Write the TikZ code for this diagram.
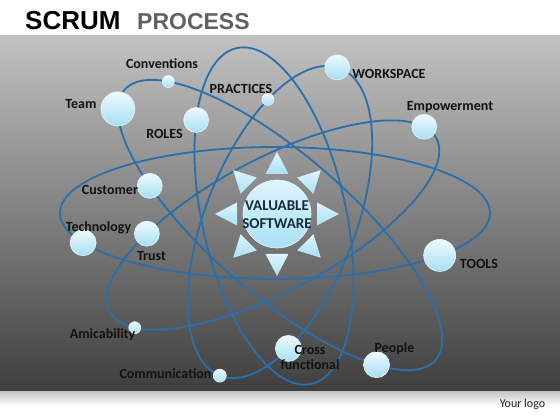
\documentclass[tikz,border=0pt]{standalone}
\usepackage{fontspec}
\setmainfont{Carlito}
\newfontfamily\titlefont{Liberation Sans}
\usetikzlibrary{calc}
\definecolor{orbit}{HTML}{2B6FAA}
\definecolor{ballA}{HTML}{EEFAFE}
\definecolor{ballB}{HTML}{A6DFF3}
\definecolor{sunA}{HTML}{DDF5FD}
\definecolor{sunB}{HTML}{A9E1F4}
\definecolor{labelc}{HTML}{121212}
\definecolor{corec}{HTML}{17293A}
\definecolor{panelTop}{HTML}{C2C2C2}
\definecolor{panelBot}{HTML}{3E3E3E}
\tikzset{
  orbitline/.style={draw=orbit, line width=1.8pt},
  ball/.style={circle, inner sep=0pt, minimum size=#1, top color=ballA, bottom color=ballB, draw=white!70!ballB, line width=0.6pt},
  labbase/.style={font=\bfseries\fontsize{14}{15}\selectfont, text=labelc, inner sep=0pt},
  lab/.style={labbase, text height=9.5pt, text depth=3pt},
  ray/.style={top color=sunA, bottom color=sunB, draw=none},
}
\begin{document}
\begin{tikzpicture}[x=1pt,y=1pt]
\useasboundingbox (0,0) rectangle (560,420);
\fill[white] (0,0) rectangle (560,420);
% panel and footer
\shade[top color=panelTop, bottom color=panelBot] (0,28) rectangle (560,384);
\shade[top color=black!22, bottom color=white] (0,14) rectangle (560,28);
% title
\node[anchor=base west, inner sep=0pt] (t1) at (25,390) {\titlefont\bfseries\fontsize{26}{26}\selectfont SCRUM};
\node[anchor=base west, inner sep=0pt, text=black!62] (t2) at (137,390) {\titlefont\bfseries\fontsize{23}{23}\selectfont PROCESS};
% ellipse centres
\coordinate (cE) at (275,207);
\coordinate (cA) at (280,195);
\coordinate (cC) at (273,195);
\coordinate (cD) at (280,198);
\coordinate (cF) at (274,204);
\coordinate (cS) at (277,206);
% orbits
\draw[orbitline] (cE) ellipse [x radius=215pt, y radius=66pt];
\draw[orbitline, rotate around={-41:(cA)}] (cA) ellipse [x radius=206pt, y radius=70pt];
\draw[orbitline, rotate around={28:(cC)}] (cC) ellipse [x radius=185pt, y radius=66pt];
\draw[orbitline, rotate around={68.6:(cD)}] (cD) ellipse [x radius=165pt, y radius=75pt];
\draw[orbitline, rotate around={102.5:(cF)}] (cF) ellipse [x radius=172pt, y radius=72pt];
% node positions on orbits
\coordinate (pTech) at ($(cE)+(0:{215*cos(206.8)})+(90:{66*sin(206.8)})$);
\coordinate (pTools) at ($(cE)+(0:{215*cos(320)})+(90:{66*sin(320)})$);
\coordinate (pConv) at ($(cA)+(-41:{206*cos(150)})+(49:{70*sin(150)})$);
\coordinate (pTeam) at ($(cA)+(-41:{206*cos(195.5)})+(49:{70*sin(195.5)})$);
\coordinate (pCust) at ($(cA)+(-41:{206*cos(233)})+(49:{70*sin(233)})$);
\coordinate (pPeople) at ($(cA)+(-41:{206*cos(323)})+(49:{70*sin(323)})$);
\coordinate (pEmp) at ($(cC)+(28:{185*cos(13.8)})+(118:{66*sin(13.8)})$);
\coordinate (pTrust) at ($(cC)+(28:{185*cos(128.6)})+(118:{66*sin(128.6)})$);
\coordinate (pAmi) at ($(cC)+(28:{185*cos(203)})+(118:{66*sin(203)})$);
\coordinate (pWork) at ($(cD)+(68.6:{165*cos(2.4)})+(158.6:{75*sin(2.4)})$);
\coordinate (pPrac) at ($(cD)+(68.6:{165*cos(48.3)})+(158.6:{75*sin(48.3)})$);
\coordinate (pComm) at ($(cD)+(68.6:{165*cos(180)})+(158.6:{75*sin(180)})$);
\coordinate (pCross) at ($(cD)+(68.6:{165*cos(226)})+(158.6:{75*sin(226)})$);
\coordinate (pRoles) at ($(cF)+(102.5:{172*cos(50)})+(192.5:{72*sin(50)})$);
% sun
\foreach \a in {0,45,...,315} {
  \shade[ray] ($(cS)+(\a:62)$) -- ($(cS)+(\a:40)+(\a+90:11.5)$) -- ($(cS)+(\a:40)+(\a-90:11.5)$) -- cycle;
}
\node[ball=68pt, top color=sunA, bottom color=sunB] (sun) at (cS) {};
\node[align=center, inner sep=0pt, text=corec, font=\bfseries\fontsize{15}{18}\selectfont] (core) at (277,205) {VALUABLE\\SOFTWARE};
% balls
\node[ball=12pt] (conv) at (pConv) {};
\node[ball=34pt] (team) at (pTeam) {};
\node[ball=12pt] (prac) at (pPrac) {};
\node[ball=25pt] (roles) at (pRoles) {};
\node[ball=25pt] (work) at (pWork) {};
\node[ball=25pt] (emp) at (pEmp) {};
\node[ball=25pt] (cust) at (pCust) {};
\node[ball=26pt] (tech) at (pTech) {};
\node[ball=25pt] (trust) at (pTrust) {};
\node[ball=32pt] (tools) at (pTools) {};
\node[ball=12pt] (ami) at (pAmi) {};
\node[ball=13pt] (comm) at (pComm) {};
\node[ball=26pt] (cross) at (pCross) {};
\node[ball=26pt] (people) at (pPeople) {};
% labels
\node[lab] (lConv) at (162,355) {Conventions};
\node[lab] (lTeam) at (81,315) {Team};
\node[lab] (lPrac) at (241,330) {PRACTICES};
\node[lab] (lRoles) at (164.5,285) {ROLES};
\node[lab] (lWork) at (389,345) {WORKSPACE};
\node[lab] (lEmp) at (450,313) {Empowerment};
\node[lab] (lCust) at (110,229) {Customer};
\node[lab] (lTech) at (98.5,192) {Technology};
\node[lab] (lTrust) at (151.5,163) {Trust};
\node[lab] (lTools) at (479,155) {TOOLS};
\node[lab] (lAmi) at (102.5,85) {Amicability};
\node[lab] (lComm) at (165.5,45) {Communication};
\node[labbase, align=center] (lCross) at (310,63) {Cross\\functional};
\node[lab] (lPeople) at (394.5,71) {People};
\node[inner sep=0pt, text=black!85, font=\fontsize{12}{14}\selectfont] (logo) at (522.5,16) {Your logo};
\end{tikzpicture}
\end{document}
